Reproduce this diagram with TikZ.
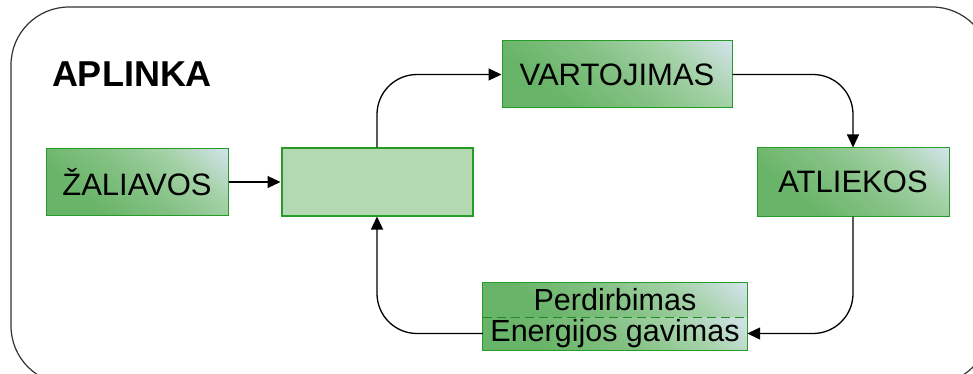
\documentclass[tikz,border=0pt]{standalone}
\usepackage{fontspec}
\setmainfont{Liberation Sans}
\usetikzlibrary{arrows.meta}
\definecolor{gdark}{HTML}{68B468}
\definecolor{gmida}{HTML}{84C184}
\definecolor{gmidb}{HTML}{A3D1A6}
\definecolor{glight}{HTML}{D3E3EB}
\definecolor{gborder}{HTML}{279B27}
\definecolor{gpale}{HTML}{B3D9B3}
\pgfdeclareverticalshading{gsh}{100bp}{color(0bp)=(gdark); color(30bp)=(gdark); color(50bp)=(gmida); color(67bp)=(gmidb); color(85bp)=(glight); color(100bp)=(glight)}
\tikzset{
  gshade/.style={shading=gsh, shading angle=-40},
  gbox/.style={rectangle, draw=gborder, line width=1pt, gshade,
    inner sep=0pt, font=\fontsize{31}{36}\selectfont},
  gpart/.style={rectangle, gshade,
    inner sep=0pt, font=\fontsize{30.5}{35}\selectfont},
  conn/.style={line width=1.3pt, rounded corners=40pt, -{Triangle[length=13pt,width=12pt]}}
}
\begin{document}
\begin{tikzpicture}[x=1pt,y=-1pt]
\useasboundingbox (0,0) rectangle (973,374);
\begin{scope}
\clip (0,0) rectangle (973,374);
\draw[line width=1.2pt, color=black!80, rounded corners=58pt] (11,7) rectangle (990,384);
\end{scope}
\node[font=\bfseries\fontsize{36}{42}\selectfont] (ap) at (132,74) {APLINKA};
\node[gbox, minimum width=182pt, minimum height=67pt] (zal) at (137,182) {ŽALIAVOS};
\node[rectangle, draw=gborder, line width=2pt, fill=gpale, minimum width=191pt, minimum height=67pt] (mid) at (377,182) {};
\node[gbox, minimum width=230pt, minimum height=67pt] (var) at (617,74.5) {VARTOJIMAS};
\node[gbox, minimum width=192pt, minimum height=68pt] (atl) at (853,182) {ATLIEKOS};
\node[gpart, minimum width=264pt, minimum height=34pt] (per) at (615,300) {Perdirbimas};
\node[gpart, minimum width=264pt, minimum height=33pt] (en) at (615,333.5) {Energijos gavimas};
\draw[gborder, line width=1pt] (per.north west) rectangle (en.south east);
\draw[gborder!90!black, line width=1.3pt, dash pattern=on 9pt off 5pt] (per.south west) -- (per.south east);
\draw[conn] (zal.east) -- (mid.west);
\draw[conn] (mid.north) |- (var.west);
\draw[conn] (var.east) -| (atl.north);
\draw[conn] (atl.south) |- (en.east);
\draw[conn] (en.west) -| (mid.south);
\end{tikzpicture}
\end{document}
